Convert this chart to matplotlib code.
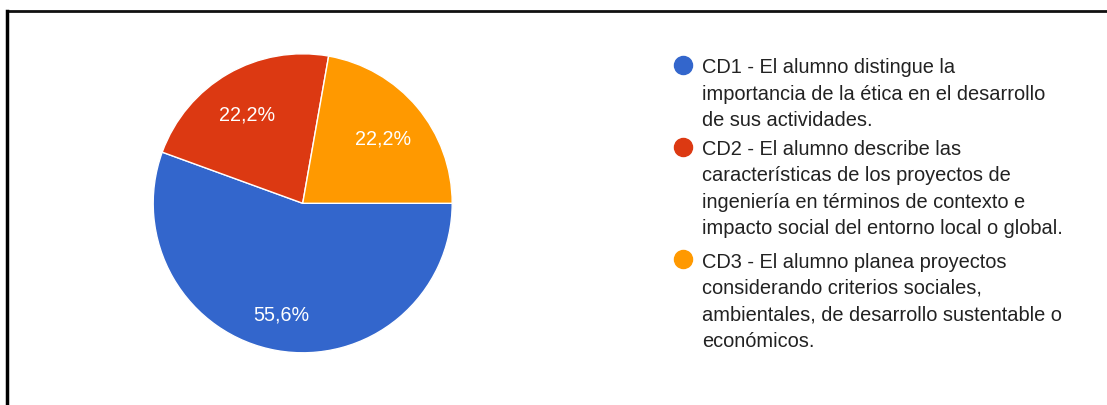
import matplotlib
matplotlib.use("Agg")
import matplotlib.pyplot as plt
from matplotlib.lines import Line2D

# data: 9 answers in total
categories = ["CD1", "CD2", "CD3"]
counts = [5, 2, 2]
colors = ["#3366CC", "#DC3912", "#FF9900"]
legend_lines = [
    ["CD1 - El alumno distingue la",
     "importancia de la ética en el desarrollo",
     "de sus actividades."],
    ["CD2 - El alumno describe las",
     "características de los proyectos de",
     "ingeniería en términos de contexto e",
     "impacto social del entorno local o global."],
    ["CD3 - El alumno planea proyectos",
     "considerando criterios sociales,",
     "ambientales, de desarrollo sustentable o",
     "económicos."],
]

W, H = 1107, 405
fig = plt.figure(figsize=(W / 100, H / 100), dpi=100)
plt.rcParams['font.family'] = ['Liberation Sans', 'DejaVu Sans']

# frame of the screenshot (top and left edges)
fig.add_artist(Line2D([7 / W, 1], [1 - 11 / H, 1 - 11 / H], color="#111111", lw=2))
fig.add_artist(Line2D([6.5 / W, 6.5 / W], [0, 1 - 11 / H], color="black", lw=2.5))

# pie
cx, cy, r = 302.7, 203.3, 149.5
ax = fig.add_axes([(cx - r) / W, (H - cy - r) / H, 2 * r / W, 2 * r / H])
wedges, texts, autotexts = ax.pie(
    counts, colors=colors, startangle=0, counterclock=False,
    autopct=lambda p: f"{p:.1f}%".replace(".", ","), pctdistance=0.72,
    wedgeprops=dict(edgecolor="white", linewidth=1),
    textprops=dict(color="white", fontsize=14.2))
for t in autotexts:
    x, y = t.get_position()
    t.set_position((x - 0.015, y - 0.035))
ax.set_xlim(-1, 1)
ax.set_ylim(-1, 1)

# legend, drawn line by line
text_x = 701.7
marker_x = 683
baselines = [73.3, 155, 267.5]
line_step = 26.4
for i, lines in enumerate(legend_lines):
    b = baselines[i]
    fig.add_artist(Line2D([marker_x / W], [1 - (b - 8.3) / H], marker="o",
                          markersize=13, color=colors[i], linestyle="none"))
    for j, s in enumerate(lines):
        fig.text(text_x / W, 1 - (b + j * line_step) / H, s, fontsize=14.45,
                 color="#222222", va="baseline", ha="left")

fig.savefig("out.png", dpi=100)
